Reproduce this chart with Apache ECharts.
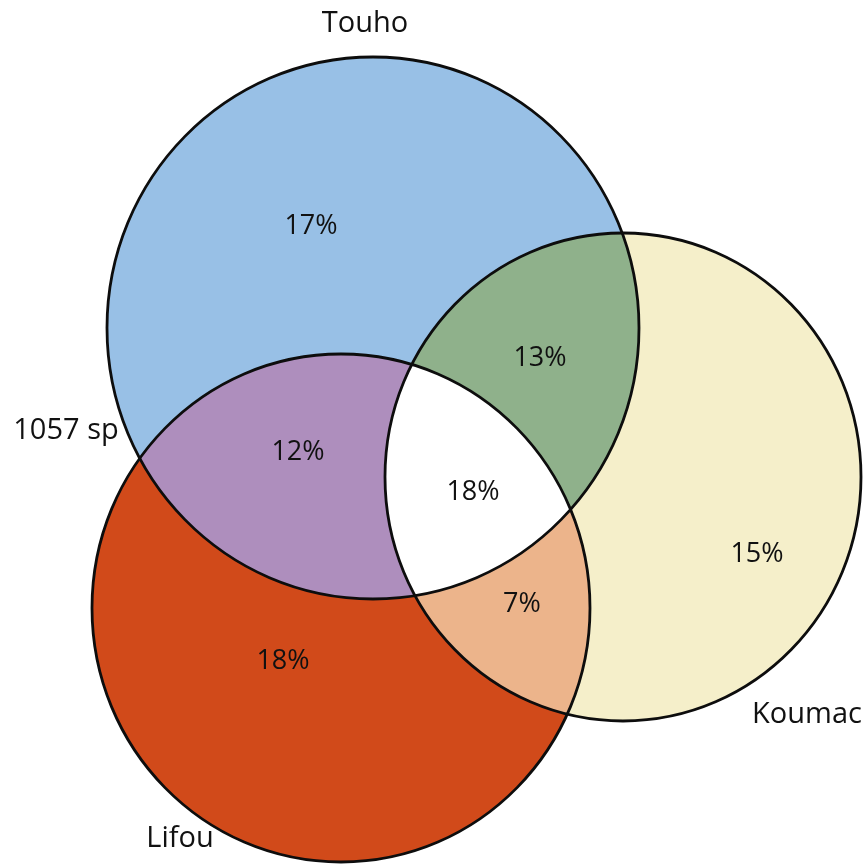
<!DOCTYPE html>
<html><head><meta charset="utf-8">
<script src="https://cdn.jsdelivr.net/npm/echarts@6/dist/echarts.min.js"></script>
<style>html,body{margin:0;padding:0;background:#fff}#c{width:864px;height:864px}</style>
</head><body><div id="c"></div>
<script>
// Sets (centres / horizontal & vertical radii in chart units)
const setNames = ['Touho', 'Koumac', 'Lifou'];
const setCenterX = [373, 623, 341];
const setCenterY = [328, 477, 608];
const setRadiusX = [266, 238, 249];
const setRadiusY = [271, 244, 254];
const setLabelX = [365, 807, 180];
const setLabelY = [24, 715, 839];
const totalLabel = ['1057 sp'];
const totalLabelX = [66];
const totalLabelY = [431];

// Regions: which sets are included, value, colour, label anchor
const regionSets = [[0], [1], [2], [0, 2], [0, 1], [1, 2], [0, 1, 2]];
const regionValues = ['17%', '15%', '18%', '12%', '13%', '7%', '18%'];
const regionColors = ['#98c0e6', '#f5efca', '#d14a1a', '#ae8ebd', '#8fb18b', '#ecb48b', '#ffffff'];
const regionLabelX = [311, 757, 283, 298, 540, 522, 473];
const regionLabelY = [226, 554, 661, 452, 358, 604, 492];

function ellipsePoly(cx, cy, rx, ry, n) {
  const pts = [];
  for (let i = 0; i < n; i++) {
    const a = 2 * Math.PI * i / n;
    pts.push([cx + rx * Math.cos(a), cy + ry * Math.sin(a)]);
  }
  return pts;
}
function side(a, b, p) { return (b[0] - a[0]) * (p[1] - a[1]) - (b[1] - a[1]) * (p[0] - a[0]); }
function inter(p, q, a, b) {
  const d1 = side(a, b, p), d2 = side(a, b, q);
  const t = d1 / (d1 - d2);
  return [p[0] + (q[0] - p[0]) * t, p[1] + (q[1] - p[1]) * t];
}
function clipPoly(subject, clipper, center) {
  let out = subject;
  for (let i = 0; i < clipper.length; i++) {
    const a = clipper[i], b = clipper[(i + 1) % clipper.length];
    const s0 = side(a, b, center) > 0 ? 1 : -1;
    const inp = out; out = [];
    for (let j = 0; j < inp.length; j++) {
      const cur = inp[j], prev = inp[(j + inp.length - 1) % inp.length];
      const cIn = side(a, b, cur) * s0 >= 0, pIn = side(a, b, prev) * s0 >= 0;
      if (cIn) { if (!pIn) out.push(inter(prev, cur, a, b)); out.push(cur); }
      else if (pIn) out.push(inter(prev, cur, a, b));
    }
    if (!out.length) break;
  }
  return out;
}

const chart = echarts.init(document.getElementById('c'), null, { renderer: 'canvas' });
const FONT = '"Open Sans", "Noto Sans", sans-serif';

function pixEllipse(api, k) {
  const c = api.coord([setCenterX[k], setCenterY[k]]);
  const s = api.size([setRadiusX[k], setRadiusY[k]]);
  return { c, rx: s[0], ry: s[1] };
}

chart.setOption({
  animation: false,
  backgroundColor: '#ffffff',
  grid: { left: 0, right: 0, top: 0, bottom: 0 },
  xAxis: { type: 'value', min: 0, max: 864, show: false },
  yAxis: { type: 'value', min: 0, max: 864, inverse: true, show: false },
  series: [
    {
      type: 'custom', coordinateSystem: 'cartesian2d', z: 1,
      data: regionSets.map((s, i) => [regionLabelX[i], regionLabelY[i], i]),
      encode: { x: 0, y: 1 },
      renderItem: function (params, api) {
        const idx = params.dataIndex;
        const es = regionSets[idx].map(k => pixEllipse(api, k));
        let poly = ellipsePoly(es[0].c[0], es[0].c[1], es[0].rx, es[0].ry, 720);
        for (let m = 1; m < es.length; m++) {
          const cl = ellipsePoly(es[m].c[0], es[m].c[1], es[m].rx, es[m].ry, 720);
          poly = clipPoly(poly, cl, es[m].c);
        }
        return {
          type: 'polygon',
          shape: { points: poly },
          style: { fill: regionColors[idx], stroke: regionColors[idx], lineWidth: 0.5 }
        };
      }
    },
    {
      type: 'custom', coordinateSystem: 'cartesian2d', z: 2,
      data: setNames.map((n, k) => [setCenterX[k], setCenterY[k], k]),
      encode: { x: 0, y: 1 },
      renderItem: function (params, api) {
        const e = pixEllipse(api, params.dataIndex);
        return {
          type: 'ellipse',
          shape: { cx: e.c[0], cy: e.c[1], rx: e.rx, ry: e.ry },
          style: { fill: 'none', stroke: '#0d0d0d', lineWidth: 2.8 }
        };
      }
    },
    {
      type: 'custom', coordinateSystem: 'cartesian2d', z: 3,
      data: regionValues.map((v, i) => [regionLabelX[i], regionLabelY[i], i]),
      encode: { x: 0, y: 1 },
      renderItem: function (params, api) {
        const p = api.coord([api.value(0), api.value(1)]);
        return {
          type: 'text', x: p[0], y: p[1],
          style: { text: regionValues[params.dataIndex], fill: '#111111', font: '27px ' + FONT, align: 'center', verticalAlign: 'middle' }
        };
      }
    },
    {
      type: 'custom', coordinateSystem: 'cartesian2d', z: 3,
      data: setNames.map((n, k) => [setLabelX[k], setLabelY[k], k]).concat([[totalLabelX[0], totalLabelY[0], 3]]),
      encode: { x: 0, y: 1 },
      renderItem: function (params, api) {
        const p = api.coord([api.value(0), api.value(1)]);
        const i = params.dataIndex;
        const txt = i < 3 ? setNames[i] : totalLabel[0];
        return {
          type: 'text', x: p[0], y: p[1],
          style: { text: txt, fill: '#111111', font: '29px ' + FONT, align: 'center', verticalAlign: 'middle' }
        };
      }
    }
  ]
});
</script></body></html>
